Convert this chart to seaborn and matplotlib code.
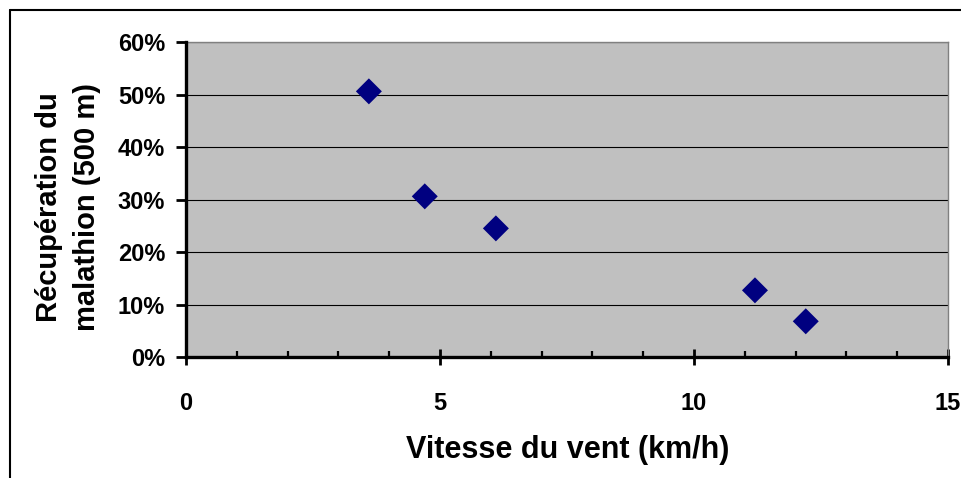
import pandas as pd
import numpy as np
import matplotlib.pyplot as plt
import seaborn as sns
from matplotlib.lines import Line2D
from matplotlib.ticker import MultipleLocator, PercentFormatter

# Données
vitesse_vent = [3.6, 4.7, 6.1, 11.2, 12.2]
recuperation = [0.506, 0.306, 0.245, 0.127, 0.068]

x_ticks = [0, 5, 10, 15]
y_ticks = [0, 0.1, 0.2, 0.3, 0.4, 0.5, 0.6]

donnees = pd.DataFrame({"Vitesse": vitesse_vent, "Recuperation": recuperation})

sns.set_style("white", {"text.color": "black", "axes.labelcolor": "black",
                        "xtick.color": "black", "ytick.color": "black"})
plt.rcParams['font.family'] = ['Liberation Sans', 'DejaVu Sans']
plt.rcParams['font.weight'] = 'bold'

fig = plt.figure(figsize=(9.61, 4.78), dpi=100)
ax = fig.add_axes([186 / 961, 1 - 357 / 478, 762 / 961, 315 / 478])
ax.set_facecolor("#C0C0C0")

sns.scatterplot(x="Vitesse", y="Recuperation", data=donnees, ax=ax,
                marker="D", s=175, color="#000080", edgecolor="none",
                zorder=3, clip_on=False)

ax.set_xlim(0, 15)
ax.set_ylim(0, 0.6)
ax.set_xticks(x_ticks)
ax.set_yticks(y_ticks)
ax.xaxis.set_minor_locator(MultipleLocator(1))
ax.yaxis.set_major_formatter(PercentFormatter(1.0, decimals=0))

# Lignes de quadrillage horizontales
ax.yaxis.grid(True, color="black", linewidth=0.8)
ax.xaxis.grid(False)
ax.set_axisbelow(True)

for cote in ["left", "bottom"]:
    ax.spines[cote].set_color("black")
    ax.spines[cote].set_linewidth(2.4)
    ax.spines[cote].set_zorder(4)
for cote in ["top", "right"]:
    ax.spines[cote].set_color("#808080")
    ax.spines[cote].set_linewidth(1.0)

ax.tick_params(axis="y", which="major", direction="out", length=7,
               width=2, color="black", labelcolor="black", labelsize=17,
               pad=8, left=True)
ax.tick_params(axis="x", which="major", direction="inout", length=11,
               width=2, color="black", labelcolor="black", labelsize=17,
               pad=20, bottom=True)
ax.tick_params(axis="x", which="minor", direction="in", length=4.5,
               width=1.6, color="black", bottom=True)
for lab in ax.get_xticklabels() + ax.get_yticklabels():
    lab.set_fontweight("bold")

ax.set_xlabel("Vitesse du vent (km/h)", fontsize=22, fontweight="bold",
              color="black")
ax.xaxis.label.set_va("center")
ax.xaxis.set_label_coords(0.501, -0.295)

ax.set_ylabel("Récupération du\nmalathion (500 m)", fontsize=21,
              fontweight="bold", linespacing=1.45, color="black")
ax.yaxis.label.set_va("center")
ax.yaxis.set_label_coords(-0.155, 0.476)

# Cadre extérieur du graphique
fig.add_artist(Line2D([9.5 / 961, 9.5 / 961], [0, 1 - 9.5 / 478],
                      transform=fig.transFigure, color="black", linewidth=1.5))
fig.add_artist(Line2D([9.5 / 961, 1], [1 - 9.5 / 478, 1 - 9.5 / 478],
                      transform=fig.transFigure, color="black", linewidth=1.5))

fig.savefig("out.png", dpi=100)
